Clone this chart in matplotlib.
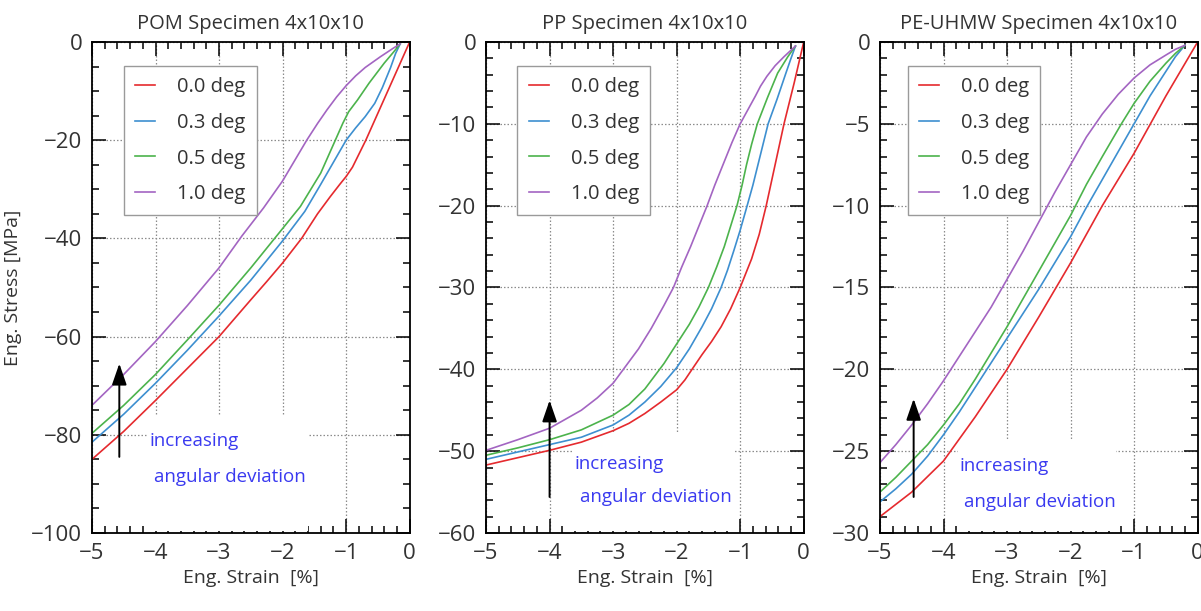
"""Stress-strain curves for three polymers at different angular deviations"""

import matplotlib.pyplot as plt
from matplotlib.patches import Rectangle
from matplotlib.ticker import MultipleLocator

plt.rcParams['font.family'] = ['Open Sans', 'DejaVu Sans']

# Data (strain in %, stress in MPa)
labels = ['0.0 deg', '0.3 deg', '0.5 deg', '1.0 deg']
colors = ['#e52a2e', '#3d8fd0', '#4cb34c', '#a365c2']

pom_x_00 = [0, -0.2, -0.4, -0.69, -0.9, -1.0, -1.1, -1.25, -1.45, -1.7, -2.0, -2.25, -2.5, -3.0, -3.5, -4.0, -4.5, -5.0]
pom_y_00 = [0, -5.8, -11.6, -20, -25.5, -27.4, -29, -31.5, -35, -40, -45, -48.8, -52.5, -60, -66.5, -73, -79.3, -85]
pom_x_03 = [-0.15, -0.22, -0.3, -0.43, -0.55, -0.7, -0.85, -1.0, -1.2, -1.4, -1.65, -2.0, -2.5, -3.0, -3.5, -4.0, -4.5, -5.0]
pom_y_03 = [-0.4, -2.3, -5.2, -9.3, -12.5, -15.2, -17.5, -20, -24.5, -29, -34.5, -40.5, -48.5, -55.8, -62.8, -69.5, -75.8, -81.5]
pom_x_05 = [-0.15, -0.25, -0.4, -0.64, -0.82, -0.96, -1.05, -1.17, -1.4, -1.72, -2.0, -2.5, -3.0, -3.5, -4.0, -4.5, -5.0]
pom_y_05 = [-0.4, -2, -4.3, -8.4, -11.8, -14.2, -16.5, -20, -26.7, -33.5, -38, -46, -53.6, -60.7, -67.7, -74, -79.7]
pom_x_10 = [-0.15, -0.25, -0.46, -0.7, -0.85, -1.0, -1.15, -1.3, -1.45, -1.62, -2.0, -2.3, -2.64, -3.0, -3.5, -4.0, -4.5, -5.0]
pom_y_10 = [-0.4, -1.2, -3, -5.2, -6.9, -8.9, -11.2, -13.8, -16.6, -20, -28.3, -33.8, -39.5, -46, -53.7, -61, -67.7, -74]

pp_x_00 = [0, -0.15, -0.31, -0.45, -0.59, -0.7, -0.82, -1.0, -1.15, -1.3, -1.45, -1.6, -1.74, -1.87, -2.0,
           -2.25, -2.5, -2.75, -3.0, -3.5, -4.0, -4.5, -5.0]
pp_y_00 = [0, -5, -10, -15, -20, -23.5, -26.5, -30, -32.6, -34.8, -36.6, -38.2, -39.8, -41.3, -42.5,
           -44, -45.4, -46.6, -47.5, -48.9, -49.9, -50.8, -51.7]
pp_x_03 = [-0.13, -0.2, -0.28, -0.42, -0.56, -0.64, -0.72, -0.8, -0.89, -1.0, -1.1, -1.2, -1.3, -1.45, -1.6,
           -1.8, -2.0, -2.25, -2.5, -2.75, -3.0, -3.5, -4.0, -4.5, -5.0]
pp_y_03 = [-0.5, -2, -3.8, -7, -10, -12.5, -15, -17.5, -20, -23, -25.5, -27.9, -30, -32.6, -34.8,
           -37.5, -39.8, -42.1, -44, -45.6, -46.8, -48.3, -49.2, -50.1, -51]
pp_x_05 = [-0.13, -0.25, -0.41, -0.57, -0.73, -0.82, -0.9, -0.97, -1.05, -1.15, -1.25, -1.37, -1.5, -1.65,
           -1.8, -2.0, -2.2, -2.5, -2.75, -3.0, -3.5, -4.0, -4.5, -5.0]
pp_y_05 = [-0.5, -1.8, -3.8, -6.8, -10, -12.5, -15, -17.5, -20, -22.5, -25, -27.5, -30, -32.4,
           -34.5, -36.9, -39.3, -42.4, -44.3, -45.6, -47.4, -48.6, -49.6, -50.5]
pp_x_10 = [-0.13, -0.31, -0.45, -0.58, -0.68, -0.76, -0.88, -1.0, -1.13, -1.26, -1.4, -1.52, -1.65, -1.78, -1.92,
           -2.05, -2.2, -2.4, -2.6, -2.8, -3.0, -3.25, -3.5, -4.0, -4.5, -5.0]
pp_y_10 = [-0.5, -1.8, -2.9, -4.2, -5.4, -6.6, -8.3, -10, -12.3, -14.8, -17.5, -20, -22.5, -25, -27.5,
           -30, -32.2, -35, -37.5, -39.6, -41.7, -43.5, -45, -47.2, -48.6, -49.9]

pe_x_00 = [0, -0.5, -1.0, -1.5, -2.0, -2.5, -3.0, -3.5, -4.0, -4.5, -5.0]
pe_y_00 = [0, -3.3, -6.8, -10, -13.5, -16.8, -20, -22.9, -25.6, -27.5, -29]
pe_x_03 = [-0.2, -0.35, -0.5, -0.75, -1.0, -1.25, -1.5, -1.75, -2.0, -2.25, -2.5, -2.75, -3.0, -3.25,
           -3.5, -3.75, -4.0, -4.25, -4.5, -4.75, -5.0]
pe_y_03 = [-0.2, -0.9, -1.8, -3.3, -5, -6.7, -8.4, -10.1, -11.9, -13.5, -15.1, -16.6, -18.1, -19.6,
           -21.1, -22.6, -24, -25.3, -26.4, -27.3, -28.1]
pe_x_05 = [-0.2, -0.35, -0.5, -0.75, -1.0, -1.2, -1.5, -1.75, -2.0, -2.25, -2.5, -2.75, -3.0, -3.25,
           -3.5, -3.75, -4.0, -4.25, -4.5, -4.75, -5.0]
pe_y_05 = [-0.2, -0.7, -1.3, -2.4, -3.75, -5, -7, -8.7, -10.6, -12.3, -14, -15.7, -17.4, -19,
           -20.6, -22.1, -23.4, -24.6, -25.6, -26.6, -27.5]
pe_x_10 = [-0.2, -0.35, -0.5, -0.75, -1.0, -1.25, -1.5, -1.75, -2.0, -2.25, -2.5, -2.75, -3.0, -3.25,
           -3.5, -3.75, -4.0, -4.25, -4.5, -4.75, -5.0]
pe_y_10 = [-0.2, -0.45, -0.8, -1.4, -2.2, -3.2, -4.4, -5.8, -7.5, -9.2, -11, -12.8, -14.5, -16.2,
           -17.7, -19.2, -20.7, -22.1, -23.4, -24.6, -25.7]

titles = ['POM Specimen 4x10x10', 'PP Specimen 4x10x10', 'PE-UHMW Specimen 4x10x10']
ymins = [-100, -60, -30]
ymajor = [20, 10, 5]
yminor = [5, 2, 1]

curves = [
    [(pom_x_00, pom_y_00), (pom_x_03, pom_y_03), (pom_x_05, pom_y_05), (pom_x_10, pom_y_10)],
    [(pp_x_00, pp_y_00), (pp_x_03, pp_y_03), (pp_x_05, pp_y_05), (pp_x_10, pp_y_10)],
    [(pe_x_00, pe_y_00), (pe_x_03, pe_y_03), (pe_x_05, pe_y_05), (pe_x_10, pe_y_10)],
]

# arrow (x, y_tail, y_tip) and annotation text anchors
arrows = [(-4.57, -84.5, -65.5), (-4.0, -55.6, -43.8), (-4.47, -27.8, -21.8)]
texts = [(-4.1, -81.3, -4.02, -88.7), (-3.6, -51.6, -3.52, -55.6), (-3.75, -25.9, -3.67, -28.1)]
# white boxes hiding the grid behind the text (axes coordinates)
boxes = [(0.174, 0.507, 0.236), (0.278, 0.50, 0.198), (0.245, 0.497, 0.183)]
legend_x = [0.101, 0.099, 0.087]

lefts = [0.0766, 0.4047, 0.7327]
txt_col = '#333333'

fig = plt.figure(figsize=(12.01, 6.11), dpi=100)

for i in range(3):
    ax = fig.add_axes([lefts[i], 0.1277, 0.2645, 0.8036])
    ax.set_axisbelow(True)
    ax.grid(True, which='major', color='#8c8c8c', linestyle=(0, (1.2, 1.6)), linewidth=0.9)

    bx, bw, bh = boxes[i]
    ax.add_patch(Rectangle((bx, 0.004), bw, bh, transform=ax.transAxes,
                           facecolor='white', edgecolor='none', zorder=1))

    for (xs, ys), c, lab in zip(curves[i], colors, labels):
        ax.plot(xs, ys, color=c, lw=1.2, label=lab, zorder=2)

    ax.set_xlim(-5, 0)
    ax.set_ylim(ymins[i], 0)
    ax.xaxis.set_major_locator(MultipleLocator(1))
    ax.xaxis.set_minor_locator(MultipleLocator(0.2))
    ax.yaxis.set_major_locator(MultipleLocator(ymajor[i]))
    ax.yaxis.set_minor_locator(MultipleLocator(yminor[i]))
    ax.tick_params(which='both', direction='in', top=True, right=True,
                   labelsize=16, width=1.1, pad=7, labelcolor=txt_col)
    ax.tick_params(which='major', length=10)
    ax.tick_params(which='minor', length=5)
    for s in ax.spines.values():
        s.set_linewidth(1.3)

    ax.set_title(titles[i], fontsize=14.5, color=txt_col, pad=9)
    ax.set_xlabel('Eng. Strain  [%]', fontsize=14, color=txt_col, labelpad=4)
    if i == 0:
        ax.set_ylabel('Eng. Stress [MPa]', fontsize=14, color=txt_col)
        ax.yaxis.set_label_coords(-0.22, 0.5)

    leg = ax.legend(loc='upper left', bbox_to_anchor=(legend_x[i], 0.951),
                    borderaxespad=0, fontsize=14.5, handlelength=1.0,
                    handletextpad=1.1, labelspacing=0.78, borderpad=0.55,
                    fancybox=False, framealpha=1, edgecolor='#9a9a9a')
    leg.get_frame().set_linewidth(1.0)
    for t in leg.get_texts():
        t.set_color(txt_col)
    leg.set_zorder(5)

    ax_x, y0, y1 = arrows[i]
    ax.annotate('', xy=(ax_x, y1), xytext=(ax_x, y0),
                arrowprops=dict(arrowstyle='-|>,head_length=0.52,head_width=0.18',
                                mutation_scale=25, color='black', lw=1.4,
                                shrinkA=0, shrinkB=0), zorder=4)
    tx1, ty1, tx2, ty2 = texts[i]
    ax.text(tx1, ty1, 'increasing', fontsize=13.5, color='#3a3af0', va='center', zorder=4)
    ax.text(tx2, ty2, 'angular deviation', fontsize=13.5, color='#3a3af0', va='center', zorder=4)

fig.savefig('out.png', dpi=100)
